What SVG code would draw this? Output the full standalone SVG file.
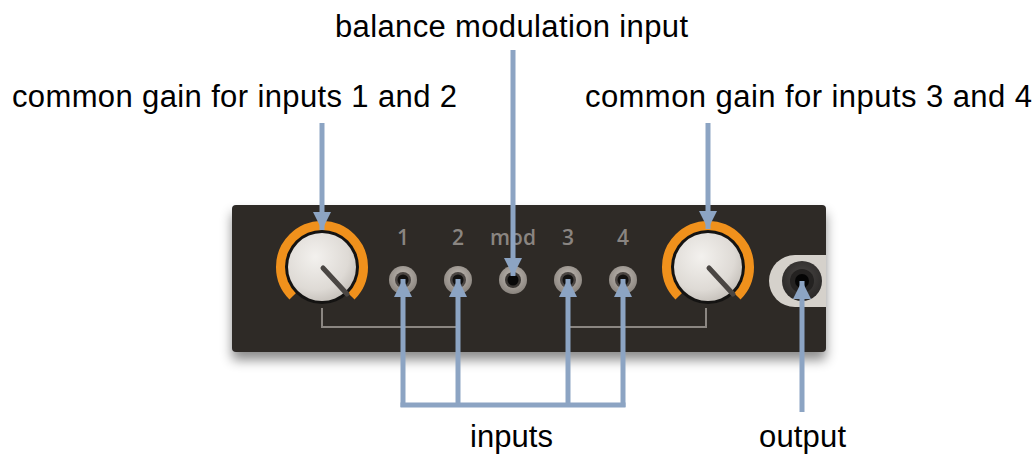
<svg xmlns="http://www.w3.org/2000/svg" width="1036" height="454" viewBox="0 0 1036 454">
<defs>
<style>
.lbl{font-family:"Liberation Sans",Arial,Helvetica,sans-serif;font-size:31px;fill:#000}
.num{font-family:"Open Sans","Liberation Sans",sans-serif;font-size:21px;font-weight:600;fill:#8a8581;text-anchor:middle}
.conn{stroke:#8ca4c3;stroke-width:5;fill:none}
.brk{stroke:#8b8681;stroke-width:2;fill:none}
.arc{stroke:#f0911c;stroke-width:10;fill:none}
.ind{stroke:#4a4643;stroke-width:5;stroke-linecap:round}
</style>
<radialGradient id="knobG" cx="0.4" cy="0.35" r="0.7">
<stop offset="0" stop-color="#f3f1ee"/>
<stop offset="0.7" stop-color="#dedad5"/>
<stop offset="1" stop-color="#c4bfb9"/>
</radialGradient>
<radialGradient id="jackG" cx="0.5" cy="0.4" r="0.6">
<stop offset="0" stop-color="#c2bcb5"/>
<stop offset="1" stop-color="#8a847e"/>
</radialGradient>
<radialGradient id="outG" cx="0.5" cy="0.4" r="0.6">
<stop offset="0" stop-color="#4a4745"/>
<stop offset="1" stop-color="#2a2827"/>
</radialGradient>
<filter id="shadow" x="-10%" y="-20%" width="120%" height="150%">
<feDropShadow dx="0" dy="8" stdDeviation="6" flood-color="#000" flood-opacity="0.45"/>
</filter>
<marker id="ah" markerUnits="userSpaceOnUse" markerWidth="20" markerHeight="20" viewBox="0 0 20 20" refX="18" refY="10" orient="auto">
<path d="M0,1 L18,10 L0,19 Z" fill="#8ca4c3"/>
</marker>
</defs>
<rect width="1036" height="454" fill="#fff"/>

<g id="panel">
<rect x="232" y="205" width="594" height="147" rx="4" fill="#2d2a28" filter="url(#shadow)"/>
<path class="brk" d="M322,308 V327 H457"/>
<path class="brk" d="M570,327 H706 V308"/>
</g>

<g id="knob1">
<path class="arc" d="M293,296 A41,41 0 1 1 351,296"/>
<circle cx="322" cy="267" r="37" fill="#141312"/>
<circle cx="322" cy="267" r="34" fill="url(#knobG)"/>
<line class="ind" x1="323" y1="268" x2="347" y2="294"/>
</g>

<g id="knob2">
<path class="arc" d="M679,296 A41,41 0 1 1 737,296"/>
<circle cx="708" cy="267" r="37" fill="#141312"/>
<circle cx="708" cy="267" r="34" fill="url(#knobG)"/>
<line class="ind" x1="709" y1="268" x2="733" y2="294"/>
</g>

<g id="jack1">
<text class="num" x="403" y="245">1</text>
<circle cx="403" cy="280" r="14" fill="url(#jackG)"/>
<circle cx="403" cy="280" r="8" fill="#4a4542"/>
<circle cx="403" cy="280" r="5.5" fill="#121110"/>
</g>
<g id="jack2">
<text class="num" x="458" y="245">2</text>
<circle cx="458" cy="280" r="14" fill="url(#jackG)"/>
<circle cx="458" cy="280" r="8" fill="#4a4542"/>
<circle cx="458" cy="280" r="5.5" fill="#121110"/>
</g>
<g id="jackmod">
<text class="num" x="513" y="245">mod</text>
<circle cx="513" cy="280" r="14" fill="url(#jackG)"/>
<circle cx="513" cy="280" r="8" fill="#3a3633"/>
<circle cx="513" cy="280" r="5.5" fill="#080808"/>
</g>
<g id="jack3">
<text class="num" x="568" y="245">3</text>
<circle cx="568" cy="280" r="14" fill="url(#jackG)"/>
<circle cx="568" cy="280" r="8" fill="#4a4542"/>
<circle cx="568" cy="280" r="5.5" fill="#121110"/>
</g>
<g id="jack4">
<text class="num" x="623" y="245">4</text>
<circle cx="623" cy="280" r="14" fill="url(#jackG)"/>
<circle cx="623" cy="280" r="8" fill="#4a4542"/>
<circle cx="623" cy="280" r="5.5" fill="#121110"/>
</g>

<g id="outputjack">
<path d="M826,255 H795 A26,26 0 0 0 795,307 H826 Z" fill="#d5d1cb"/>
<circle cx="802" cy="281" r="20" fill="url(#outG)"/>
<circle cx="802" cy="281" r="12" fill="#242221"/>
<circle cx="802" cy="281" r="7" fill="#050505"/>
</g>

<g id="connectors">
<line class="conn" x1="322" y1="123" x2="322" y2="230" marker-end="url(#ah)"/>
<line class="conn" x1="513" y1="50" x2="513" y2="276" marker-end="url(#ah)"/>
<line class="conn" x1="708" y1="123" x2="708" y2="229" marker-end="url(#ah)"/>
<path class="conn" d="M400.5,405 H625.5"/>
<line class="conn" x1="403" y1="407" x2="403" y2="279" marker-end="url(#ah)"/>
<line class="conn" x1="458" y1="407" x2="458" y2="279" marker-end="url(#ah)"/>
<line class="conn" x1="568" y1="407" x2="568" y2="279" marker-end="url(#ah)"/>
<line class="conn" x1="623" y1="407" x2="623" y2="279" marker-end="url(#ah)"/>
<line class="conn" x1="802" y1="412" x2="802" y2="281" marker-end="url(#ah)"/>
</g>

<g id="labels">
<text class="lbl" x="335" y="37" textLength="353" lengthAdjust="spacing">balance modulation input</text>
<text class="lbl" x="12" y="107" textLength="445" lengthAdjust="spacing">common gain for inputs 1 and 2</text>
<text class="lbl" x="585" y="107" textLength="447" lengthAdjust="spacing">common gain for inputs 3 and 4</text>
<text class="lbl" x="470" y="447" textLength="83" lengthAdjust="spacing">inputs</text>
<text class="lbl" x="759" y="447" textLength="87" lengthAdjust="spacing">output</text>
</g>
</svg>
